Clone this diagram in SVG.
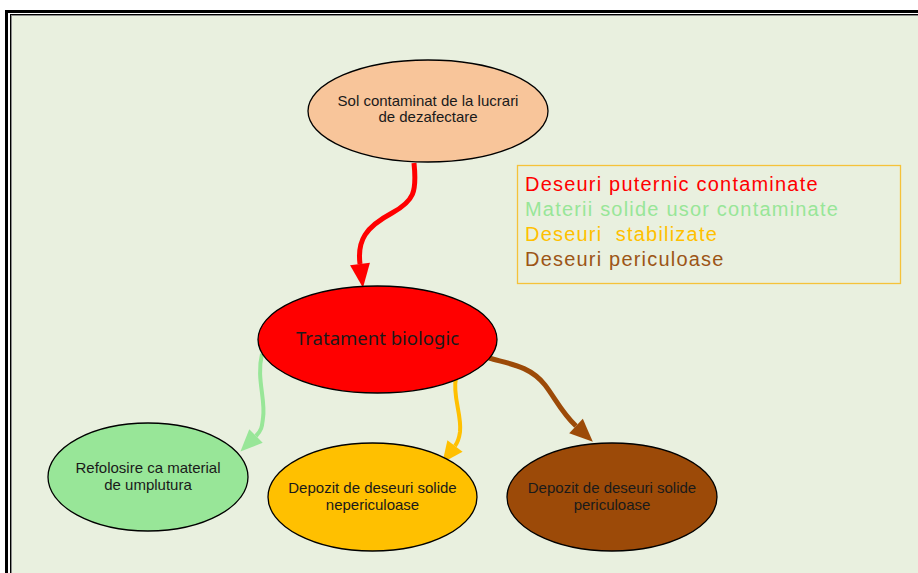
<svg xmlns="http://www.w3.org/2000/svg" width="918" height="573" viewBox="0 0 918 573">
<style>
.node{stroke:#000;stroke-width:1.3}
.lbl{font-family:"Liberation Sans",Arial,sans-serif;font-size:15px;fill:#1a1a1a;text-anchor:middle}
.leg{font-family:"Liberation Sans",Arial,sans-serif;font-size:20px;letter-spacing:1.2px}
.con{fill:none;stroke-linecap:butt}
</style>
<defs>
<marker id="arR" viewBox="-1 -11 27 22" markerWidth="27" markerHeight="22" refX="0" refY="0" orient="auto" markerUnits="userSpaceOnUse"><path d="M0,-10 L24,0 L0,10 z" fill="#FF0000"/></marker>
<marker id="arG" viewBox="-1 -11 27 22" markerWidth="27" markerHeight="22" refX="0" refY="0" orient="auto" markerUnits="userSpaceOnUse"><path d="M0,-9.5 L22,0 L0,9.5 z" fill="#98E698"/></marker>
<marker id="arO" viewBox="-1 -11 27 22" markerWidth="27" markerHeight="22" refX="0" refY="0" orient="auto" markerUnits="userSpaceOnUse"><path d="M0,-9.5 L21,0 L0,9.5 z" fill="#FFC000"/></marker>
<marker id="arB" viewBox="-1 -11 27 22" markerWidth="27" markerHeight="22" refX="0" refY="0" orient="auto" markerUnits="userSpaceOnUse"><path d="M0,-10 L23,0 L0,10 z" fill="#9C4A08"/></marker>
</defs>
<rect x="0" y="0" width="918" height="573" fill="#FFFFFF"/>
<rect x="12" y="16" width="920" height="570" fill="#E9F0DF"/>
<rect x="6.5" y="11.5" width="930" height="580" fill="none" stroke="#000" stroke-width="3"/>
<rect x="10.5" y="14.5" width="930" height="580" fill="none" stroke="#000" stroke-width="1"/>
<rect x="11.5" y="15.5" width="930" height="580" fill="none" stroke="#8A8A8A" stroke-width="1"/>

<g id="legend">
<rect x="517.5" y="165.5" width="383" height="118" fill="none" stroke="#F5C23A" stroke-width="1.3"/>
<text class="leg" x="525" y="191" fill="#FF0000">Deseuri puternic contaminate</text>
<text class="leg" x="525" y="216" fill="#98E698">Materii solide usor contaminate</text>
<text class="leg" x="525" y="241" fill="#FFC000" xml:space="preserve">Deseuri  stabilizate</text>
<text class="leg" x="525" y="266" fill="#9C5516">Deseuri periculoase</text>
</g>

<g id="connectors" class="con">
<path d="M414,163 C417,192 414,201 392,213 C366,227 357,240 360,264" stroke="#FF0000" stroke-width="5" marker-end="url(#arR)"/>
<path d="M262,354 C256,378 266,400 263,418 C262,426 262,430 256,436" stroke="#98E698" stroke-width="4" marker-end="url(#arG)"/>
<path d="M456,378 C452,395 462,415 460,432 C459,439 458,442 455,446" stroke="#FFC000" stroke-width="4" marker-end="url(#arO)"/>
<path d="M489,358 C510,364 530,366 545,385 C555,398 562,413 576,426" stroke="#9C4A08" stroke-width="5" marker-end="url(#arB)"/>
</g>

<g id="sol">
<ellipse class="node" cx="428" cy="111" rx="120" ry="51" fill="#F8C59A"/>
<text class="lbl" x="428" y="106">Sol contaminat de la lucrari</text>
<text class="lbl" x="428" y="122">de dezafectare</text>
</g>

<g id="tratament">
<ellipse class="node" cx="377.5" cy="339.5" rx="119.5" ry="53.5" fill="#FF0000"/>
<text x="377.5" y="345" font-family="'Noto Sans','Open Sans',sans-serif" font-size="18.5" fill="#1a1a1a" text-anchor="middle">Tratament biologic</text>
</g>

<g id="refolosire">
<ellipse class="node" cx="148" cy="477" rx="100" ry="54" fill="#98E698"/>
<text class="lbl" x="148" y="473">Refolosire ca material</text>
<text class="lbl" x="148" y="490">de umplutura</text>
</g>

<g id="nepericuloase">
<ellipse class="node" cx="372.5" cy="497" rx="104.5" ry="54" fill="#FFC000"/>
<text class="lbl" x="372.5" y="493">Depozit de deseuri solide</text>
<text class="lbl" x="372.5" y="510">nepericuloase</text>
</g>

<g id="periculoase">
<ellipse class="node" cx="612" cy="497" rx="105" ry="54" fill="#9C4A08"/>
<text class="lbl" x="612" y="493">Depozit de deseuri solide</text>
<text class="lbl" x="612" y="510">periculoase</text>
</g>
</svg>
